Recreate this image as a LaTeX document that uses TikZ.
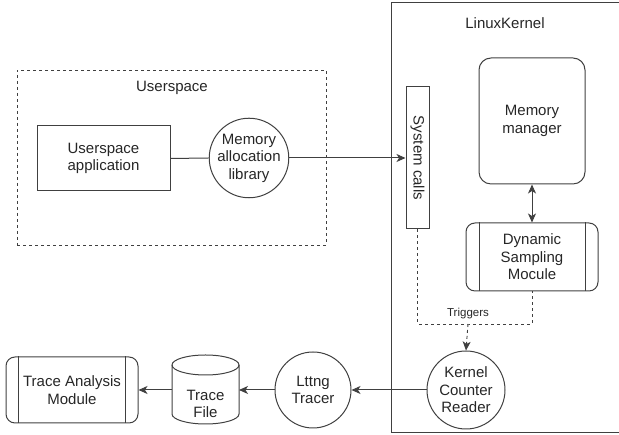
\documentclass[tikz,border=0pt]{standalone}
\usepackage{fontspec}
\setmainfont{Liberation Sans}
\usetikzlibrary{arrows.meta}
\begin{document}
\begin{tikzpicture}[x=1pt,y=1pt,
  every node/.style={font=\fontsize{15}{17.5}\selectfont, text=black!85, align=center},
  frame/.style={draw=black!75, line width=1pt},
  plainbox/.style={frame, rectangle, inner sep=0pt},
  roundbox/.style={frame, rectangle, rounded corners=12pt, inner sep=0pt},
  procbox/.style={frame, rectangle, rounded corners=9pt, inner sep=0pt},
  circ/.style={frame, circle, inner sep=0pt},
  link/.style={draw=black!75, line width=1pt},
  tip/.style={-{Stealth[length=9pt,width=8pt,inset=2.5pt]}},
  bothtips/.style={{Stealth[length=9pt,width=8pt,inset=2.5pt]}-{Stealth[length=9pt,width=8pt,inset=2.5pt]}},
  dashline/.style={draw=black!75, line width=0.9pt, dash pattern=on 3pt off 3pt}]

\useasboundingbox (0,0) rectangle (619,435);

% Kernel region (open towards the right)
\draw[frame] (640,432) -- (391,432) -- (391,2) -- (640,2);
\node (kernellabel) at (505,412) {LinuxKernel};

% Userspace region
\node[dashline, rectangle, minimum width=309, minimum height=175] (us) at (171.5,277.5) {};
\node (uslabel) at (172,347) {Userspace};
\node[plainbox, minimum width=133, minimum height=65] (app) at (103.5,276.5) {Userspace\\application};
\node[circ, minimum size=78] (mal) at (249,277) {Memory\\allocation\\library};

% Kernel components
\node[plainbox, rotate=-90, minimum width=142, minimum height=23] (sys) at (417.5,277) {System calls};
\node[roundbox, minimum width=106, minimum height=126] (mm) at (532,314) {Memory\\manager};
\node[procbox, minimum width=132, minimum height=68] (dsm) at (532,178) {Dynamic\\Sampling\\Mocule};
\draw[frame] ([xshift=14]dsm.north west) -- ([xshift=14]dsm.south west);
\draw[frame] ([xshift=-13]dsm.north east) -- ([xshift=-13]dsm.south east);
\node[circ, minimum size=78] (kcr) at (466,45) {Kernel\\Counter\\Reader};

% Tracing chain
\node[circ, minimum size=76] (lttng) at (313,45) {Lttng\\Tracer};

% Trace file drum
\draw[frame] (172,70) -- (172,21)
  arc[start angle=180, end angle=360, x radius=33.5, y radius=10]
  -- (239,70)
  arc[start angle=0, end angle=180, x radius=33.5, y radius=10];
\draw[frame] (172,70) arc[start angle=180, end angle=360, x radius=33.5, y radius=10];
\node (tf) at (205.5,31) {Trace\\File};
\coordinate (tfE) at (239,45);
\coordinate (tfW) at (172,45);

\node[procbox, minimum width=132, minimum height=66] (tam) at (72,45) {Trace Analysis\\Module};
\draw[frame] ([xshift=13]tam.north west) -- ([xshift=13]tam.south west);
\draw[frame] ([xshift=-13]tam.north east) -- ([xshift=-13]tam.south east);

% Connectors
\draw[link] (app.east) -- (mal.west);
\draw[link, tip] (mal.east) -- (sys.south);
\draw[link, bothtips] (mm.south) -- (dsm.north);

\coordinate (trig) at (468,111);
\draw[dashline] (sys.east) |- (trig) -| (dsm.south);
\node[font=\fontsize{11.5}{13}\selectfont] (triglabel) at (468,121) {Triggers};
\draw[dashline, tip] (trig) -- (kcr.north);

\draw[link, tip] (kcr.west) -- (lttng.east);
\draw[link, tip] (lttng.west) -- (tfE);
\draw[link, tip] (tfW) -- (tam.east);
\end{tikzpicture}
\end{document}
